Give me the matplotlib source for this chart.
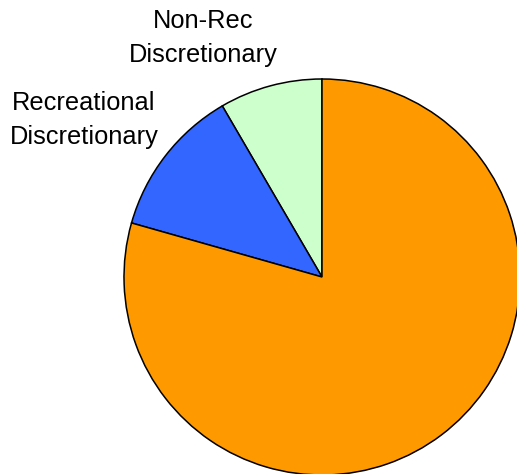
import matplotlib.pyplot as plt

# slice shares, counter-clockwise from 12 o'clock
labels = ["Non-Rec\nDiscretionary", "Recreational\nDiscretionary", "Non-Discretionary"]
values = [8.4, 12.2, 79.4]
colors = ["#CCFFCC", "#3366FF", "#FF9900"]

plt.rcParams['font.family'] = ['Liberation Sans', 'DejaVu Sans']

fig = plt.figure(figsize=(5.17, 4.74), dpi=100)
ax = fig.add_axes([0, 0, 1, 1])

ax.pie(values, colors=colors, startangle=90, counterclock=True, radius=1.0,
       wedgeprops=dict(edgecolor="black", linewidth=1.1))

# pixel layout: centre (322, 277), radius 198
ax.set_xlim(-322 / 198, 195 / 198)
ax.set_ylim((277 - 474) / 198, 277 / 198)
ax.set_aspect('equal')
ax.axis('off')

ax.text((203 - 322) / 198, (277 - 38) / 198, labels[0], fontsize=18.3,
        ha='center', va='center', multialignment='center', linespacing=1.55)
ax.text((84 - 322) / 198, (277 - 120) / 198, labels[1], fontsize=18.3,
        ha='center', va='center', multialignment='center', linespacing=1.55)

fig.savefig("out.png", dpi=100)
